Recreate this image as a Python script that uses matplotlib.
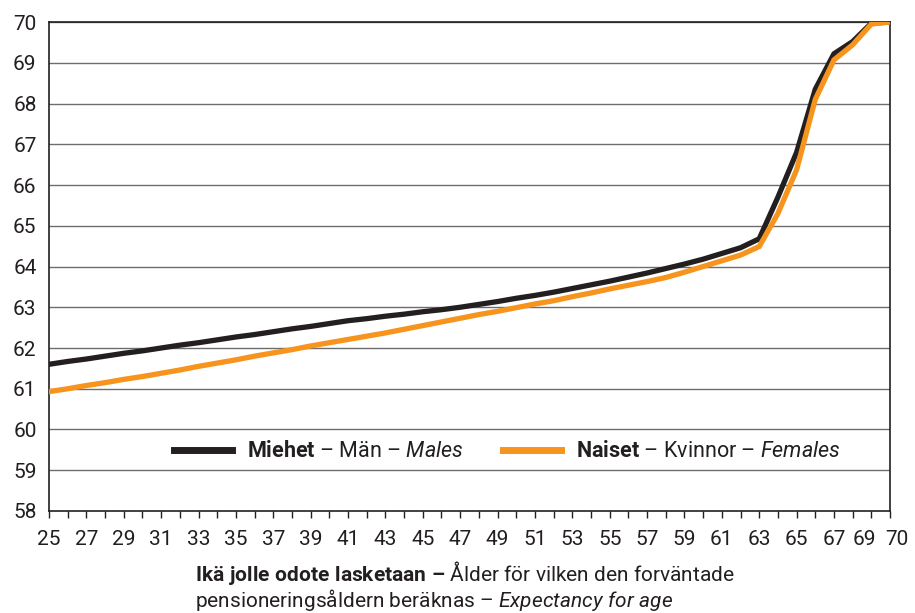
import numpy as np
import matplotlib.pyplot as plt
from matplotlib import font_manager as fm
from matplotlib.transforms import ScaledTranslation

# Fuente: usar una condensada si existe
names = {f.name for f in fm.fontManager.ttflist}
fam = 'Liberation Sans Narrow' if 'Liberation Sans Narrow' in names else 'Roboto'
plt.rcParams['font.family'] = [fam, 'DejaVu Sans']
plt.rcParams['mathtext.fontset'] = 'custom'
plt.rcParams['mathtext.rm'] = fam
plt.rcParams['mathtext.bf'] = fam + ':bold'
plt.rcParams['mathtext.it'] = fam + ':italic'

# Datos
ages = list(range(25, 71))
males = [61.60, 61.67, 61.73, 61.80, 61.87, 61.93, 62.00, 62.07, 62.13, 62.20,
         62.27, 62.33, 62.40, 62.47, 62.53, 62.60, 62.67, 62.72, 62.78, 62.83,
         62.89, 62.94, 63.00, 63.07, 63.14, 63.22, 63.29, 63.37, 63.46, 63.55,
         63.64, 63.74, 63.84, 63.95, 64.06, 64.18, 64.32, 64.46, 64.68, 65.70,
         66.80, 68.35, 69.22, 69.52, 69.97, 70.00]
females = [60.93, 61.00, 61.08, 61.15, 61.23, 61.30, 61.38, 61.46, 61.55, 61.63,
           61.71, 61.80, 61.88, 61.96, 62.05, 62.13, 62.21, 62.29, 62.37, 62.46,
           62.55, 62.64, 62.73, 62.82, 62.90, 62.99, 63.08, 63.16, 63.26, 63.35,
           63.45, 63.54, 63.63, 63.73, 63.86, 64.00, 64.14, 64.28, 64.49, 65.30,
           66.37, 68.10, 69.07, 69.44, 69.95, 70.00]
xtick_labels = [str(a) if (a % 2 == 1 or a == 70) else '' for a in ages]
yticks = list(range(58, 71))

dark = '#231f20'

fig = plt.figure(figsize=(9.15, 6.13), dpi=100)
ax = fig.add_axes([0.0536, 0.1664, 0.9191, 0.7977])

for y in yticks[1:]:
    ax.axhline(y, color='#6d6d6d', linewidth=1.0, zorder=1)

ax.plot(ages, males, color=dark, linewidth=3.8, solid_joinstyle='miter',
        label=r'$\mathbf{Miehet}$ – Män – $\mathit{Males}$', zorder=3)
ax.plot(ages, females, color='#f7941d', linewidth=3.8, solid_joinstyle='miter',
        label=r'$\mathbf{Naiset}$ – Kvinnor – $\mathit{Females}$', zorder=4)

ax.set_xlim(25, 70)
ax.set_ylim(58, 70)
ax.set_xticks(ages)
ax.set_xticklabels(xtick_labels)
ax.set_yticks(yticks)
ax.tick_params(axis='x', direction='out', length=5, width=1, color=dark,
               labelsize=15, pad=9, labelcolor=dark)
ax.tick_params(axis='y', length=0, labelsize=15, pad=9, labelcolor=dark)

# 69 y 70 quedan pegados como en el original
for tick in ax.xaxis.get_major_ticks():
    txt = tick.label1.get_text()
    if txt == '69':
        tick.label1.set_transform(tick.label1.get_transform() + ScaledTranslation(-5 / 72, 0, fig.dpi_scale_trans))
    elif txt == '70':
        tick.label1.set_transform(tick.label1.get_transform() + ScaledTranslation(5 / 72, 0, fig.dpi_scale_trans))

for side in ['left', 'right', 'bottom', 'top']:
    ax.spines[side].set_color(dark)
    ax.spines[side].set_linewidth(1.2)

leg = ax.legend(loc='center', bbox_to_anchor=(0.545, 0.121), ncol=2, frameon=False,
                fontsize=15.5, handlelength=2.7, handletextpad=0.7, columnspacing=1.8)
for t in leg.get_texts():
    t.set_color(dark)
for l in leg.get_lines():
    l.set_linewidth(5)

# Título del eje x en dos líneas, alineado a la izquierda
fig.text(195 / 915, 1 - 581 / 613,
         r'$\mathbf{Ikä\ jolle\ odote\ lasketaan\ –}$ Ålder för vilken den forväntade',
         ha='left', va='baseline', fontsize=15, color=dark)
fig.text(195 / 915, 1 - 607 / 613,
         r'pensioneringsåldern beräknas – $\mathit{Expectancy\ for\ age}$',
         ha='left', va='baseline', fontsize=15, color=dark)

plt.savefig('out.png', dpi=100)
